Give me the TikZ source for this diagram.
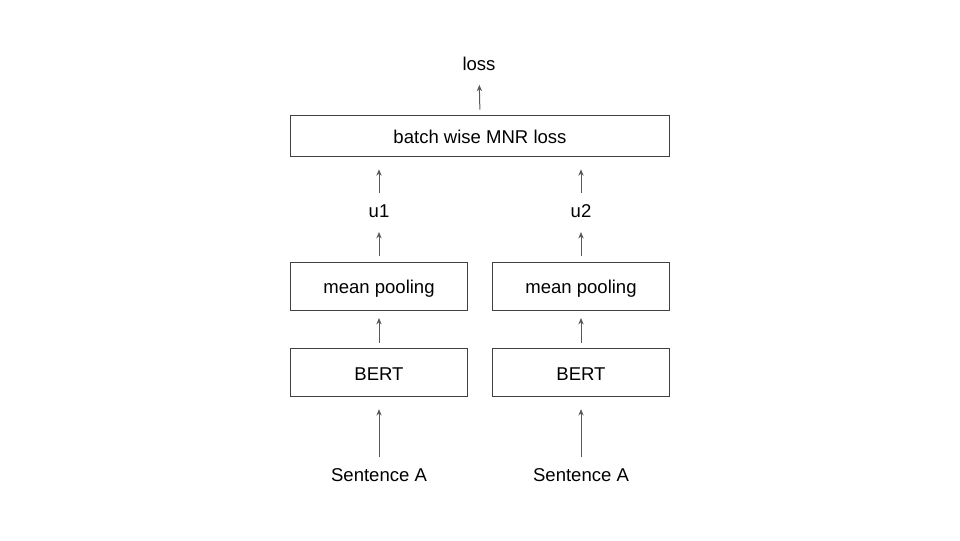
\documentclass[tikz,border=0pt]{standalone}
\usepackage{fontspec}
\setmainfont{Liberation Sans}
\usetikzlibrary{arrows.meta}

\begin{document}
\begin{tikzpicture}[x=0.75pt,y=-0.75pt,
    font=\fontsize{13.9}{16}\selectfont,
    box/.style={draw=black!75, line width=0.75pt, inner sep=0pt, outer sep=0pt,
                text height=11.5pt, text depth=0pt,
                minimum width=132.75pt, minimum height=36pt},
    lbl/.style={inner sep=0pt, outer sep=0pt},
    up/.style={draw=black!65, line width=0.75pt,
               -{Stealth[length=4.8pt,width=4pt]},
               shorten <=4.5pt, shorten >=9.5pt}]
    \useasboundingbox (0,0) rectangle (960,540);
    % top
    \node [lbl] (loss) at (479,64) {loss};
    \node [box, minimum width=284pt, minimum height=30.75pt] (mnr) at (480,136.2) {batch wise MNR loss};
    % left tower
    \node [lbl] (u1) at (379,211.5) {u1};
    \node [box] (poolA) at (379,286) {mean pooling};
    \node [box] (bertA) at (379,372.5) {BERT};
    \node [lbl] (sentA) at (379,475) {Sentence A};
    % right tower
    \node [lbl] (u2) at (581,211.5) {u2};
    \node [box] (poolB) at (581,286) {mean pooling};
    \node [box] (bertB) at (581,372.5) {BERT};
    \node [lbl] (sentB) at (581,475) {Sentence A};
    % arrows
    \draw [up, shorten >=10.5pt] (mnr.north) -- (loss.south);
    \draw [up, shorten <=9pt] (u1.north) -- (mnr.south -| u1.north);
    \draw [up, shorten <=9pt] (u2.north) -- (mnr.south -| u2.north);
    \draw [up, shorten >=10.5pt] (poolA.north) -- (u1.south);
    \draw [up, shorten >=10.5pt] (poolB.north) -- (u2.south);
    \draw [up, shorten >=6pt] (bertA.north) -- (poolA.south);
    \draw [up, shorten >=6pt] (bertB.north) -- (poolB.south);
    \draw [up, shorten <=8.25pt] (sentA.north) -- (bertA.south);
    \draw [up, shorten <=8.25pt] (sentB.north) -- (bertB.south);
\end{tikzpicture}
\end{document}
